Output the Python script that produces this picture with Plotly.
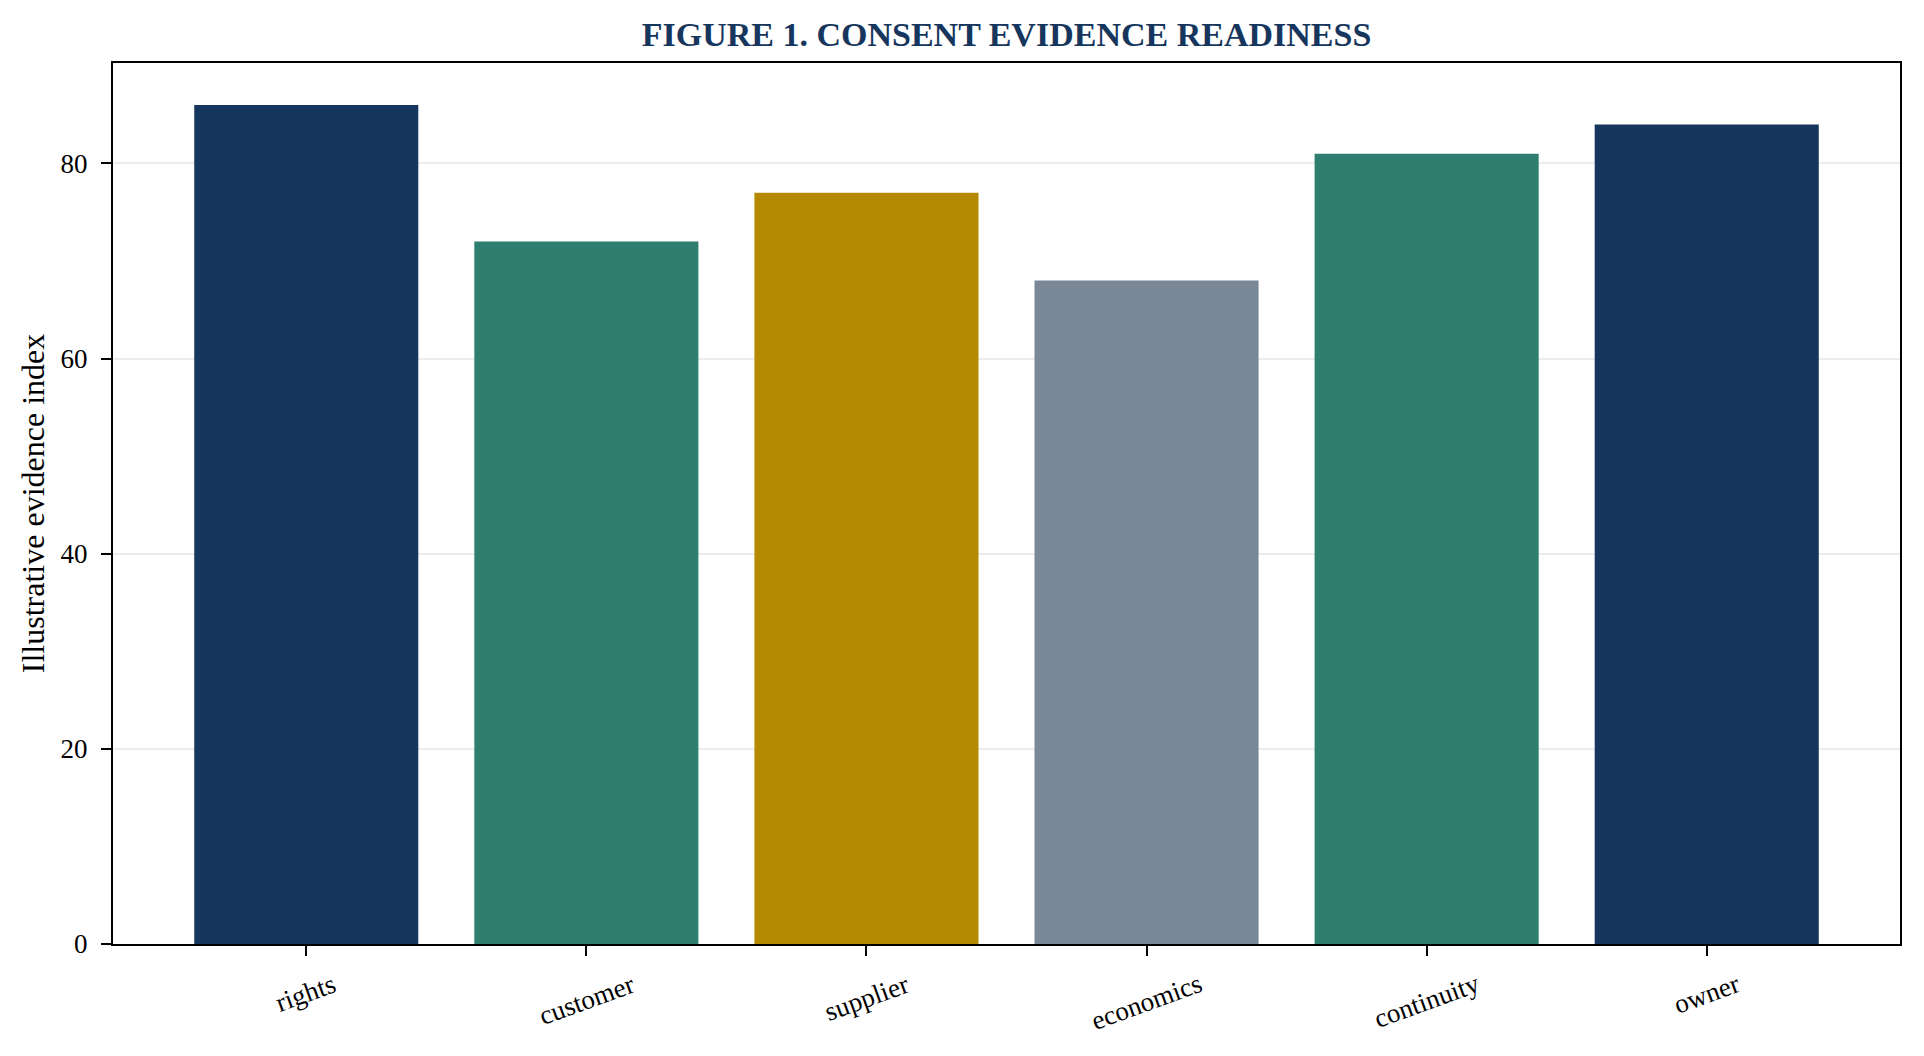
import plotly.graph_objects as go

# readiness index per evidence area
categories = ["rights", "customer", "supplier", "economics", "continuity", "owner"]
values = [86, 72, 77, 68, 81, 84]
bar_colors = ["#17365d", "#2e7f6f", "#b38a00", "#7a8796", "#2e7f6f", "#17365d"]

serif = "Liberation Serif, Times New Roman, serif"

fig = go.Figure(go.Bar(
    x=categories,
    y=values,
    width=0.8,
    marker=dict(color=bar_colors, line=dict(width=0)),
    hoverinfo="x+y",
))

# x tick labels drawn as rotated, centred annotations (matplotlib style)
annotations = []
for c in categories:
    annotations.append(dict(
        x=c, xref="x", y=0, yref="paper",
        text=c, showarrow=False, textangle=-20,
        xanchor="center", yanchor="top", yshift=-22,
        font=dict(family=serif, size=27, color="black"),
    ))

# page has an 8px body margin, so the figure is a bit smaller and shifted
fig.update_layout(
    width=1916, height=1048,
    margin=dict(l=105, r=24, t=55, b=112),
    paper_bgcolor="white",
    plot_bgcolor="white",
    font=dict(family=serif, size=27, color="black"),
    title=dict(
        text="<b>FIGURE 1. CONSENT EVIDENCE READINESS</b>",
        x=0.5, xref="paper", xanchor="center",
        y=1 - 26 / 1048, yref="container", yanchor="middle",
        font=dict(family=serif, size=34, color="#17365d"),
    ),
    showlegend=False,
    bargap=0.2,
    annotations=annotations,
)

fig.update_xaxes(
    range=[-0.69, 5.69],
    showticklabels=False,
    ticks="outside", ticklen=10, tickwidth=2, tickcolor="black",
    showline=True, linecolor="black", linewidth=2, mirror=True,
    showgrid=False, zeroline=False,
)

fig.update_yaxes(
    range=[0, 90.3],
    tickvals=[0, 20, 40, 60, 80],
    ticks="outside", ticklen=10, tickwidth=2, tickcolor="black",
    tickfont=dict(family=serif, size=27, color="black"),
    ticklabelstandoff=8,
    showline=True, linecolor="black", linewidth=2, mirror=True,
    showgrid=True, gridcolor="rgba(150,150,150,0.18)", gridwidth=2,
    zeroline=False,
    layer="above traces",
    title=dict(text="Illustrative evidence index", standoff=6,
               font=dict(family=serif, size=32, color="black")),
)

fig.write_html("out.html")
